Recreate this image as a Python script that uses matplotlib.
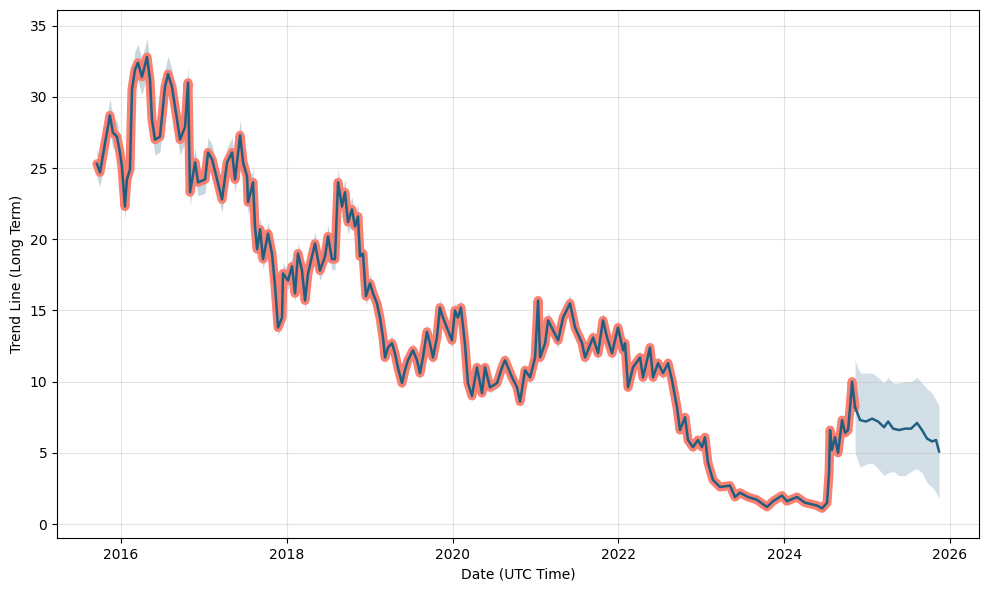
import numpy as np
import pandas as pd
import matplotlib
matplotlib.use('Agg')
import matplotlib.pyplot as plt

# Data historis (tahun desimal, nilai)
hist_years = [
    2015.710, 2015.747, 2015.867, 2015.903, 2015.952, 2015.988, 2016.012, 2016.048,
    2016.072, 2016.109, 2016.133, 2016.169, 2016.205, 2016.253, 2016.314, 2016.350,
    2016.374, 2016.410, 2016.470, 2016.531, 2016.567, 2016.615, 2016.676, 2016.712,
    2016.772, 2016.808, 2016.832, 2016.893, 2016.929, 2017.013, 2017.049, 2017.098,
    2017.158, 2017.218, 2017.279, 2017.339, 2017.375, 2017.436, 2017.472, 2017.520,
    2017.532, 2017.592, 2017.616, 2017.641, 2017.677, 2017.713, 2017.773, 2017.821,
    2017.858, 2017.894, 2017.942, 2017.954, 2018.014, 2018.063, 2018.099, 2018.135,
    2018.183, 2018.220, 2018.256, 2018.304, 2018.340, 2018.400, 2018.461, 2018.497,
    2018.545, 2018.581, 2018.618, 2018.666, 2018.702, 2018.738, 2018.786, 2018.823,
    2018.859, 2018.883, 2018.919, 2018.955, 2019.004, 2019.040, 2019.088, 2019.124,
    2019.161, 2019.185, 2019.221, 2019.269, 2019.305, 2019.341, 2019.390, 2019.426,
    2019.462, 2019.522, 2019.571, 2019.607, 2019.643, 2019.691, 2019.727, 2019.764,
    2019.812, 2019.848, 2019.884, 2019.932, 2019.993, 2020.029, 2020.065, 2020.101,
    2020.149, 2020.186, 2020.234, 2020.294, 2020.355, 2020.391, 2020.451, 2020.536,
    2020.596, 2020.632, 2020.717, 2020.777, 2020.813, 2020.873, 2020.934, 2020.994,
    2021.030, 2021.054, 2021.115, 2021.151, 2021.211, 2021.272, 2021.332, 2021.416,
    2021.477, 2021.561, 2021.597, 2021.694, 2021.754, 2021.814, 2021.863, 2021.923,
    2021.995, 2022.056, 2022.080, 2022.116, 2022.176, 2022.261, 2022.297, 2022.381,
    2022.418, 2022.478, 2022.538, 2022.599, 2022.647, 2022.707, 2022.743, 2022.804,
    2022.840, 2022.900, 2022.960, 2023.009, 2023.045, 2023.081, 2023.141, 2023.226,
    2023.346, 2023.407, 2023.467, 2023.564, 2023.672, 2023.793, 2023.865, 2023.974,
    2024.034, 2024.155, 2024.251, 2024.396, 2024.457, 2024.517, 2024.541, 2024.553,
    2024.577, 2024.613, 2024.649, 2024.698, 2024.734, 2024.770, 2024.794, 2024.818,
    2024.830, 2024.854,
]
hist_values = [
    25.3, 24.7, 28.7, 27.5, 27.2, 26.1, 25.1, 22.3,
    24.2, 24.9, 30.5, 31.9, 32.4, 31.4, 32.8, 31.2,
    28.4, 27.0, 27.2, 30.7, 31.6, 30.7, 28.4, 27.0,
    27.9, 31.0, 23.3, 25.4, 24.0, 24.2, 26.1, 25.6,
    24.2, 22.8, 25.4, 26.1, 24.2, 27.3, 25.4, 24.4,
    22.6, 24.0, 20.9, 19.3, 20.7, 18.6, 20.4, 19.0,
    16.7, 13.8, 14.5, 17.6, 17.1, 18.1, 16.2, 19.0,
    17.8, 15.7, 17.6, 18.8, 19.7, 17.8, 18.8, 20.2,
    18.6, 18.6, 24.0, 22.3, 23.3, 21.2, 22.1, 20.9,
    21.6, 18.8, 19.0, 16.0, 16.9, 16.2, 15.5, 14.5,
    13.1, 11.7, 12.4, 12.7, 12.0, 11.0, 9.9, 10.8,
    11.5, 12.2, 11.5, 10.6, 11.7, 13.5, 12.7, 11.7,
    13.1, 15.2, 14.5, 13.8, 12.9, 15.0, 14.5, 15.2,
    12.7, 9.9, 9.0, 11.0, 9.2, 11.0, 9.6, 9.9,
    11.0, 11.5, 10.3, 9.6, 8.6, 10.8, 10.3, 11.7,
    15.7, 11.7, 12.7, 14.3, 13.6, 12.9, 14.5, 15.5,
    13.8, 12.7, 11.7, 13.1, 12.0, 14.3, 13.1, 12.0,
    13.8, 12.2, 12.7, 9.6, 11.0, 11.7, 10.3, 12.4,
    10.3, 11.3, 10.6, 11.3, 10.1, 8.2, 6.6, 7.5,
    5.9, 5.4, 5.9, 5.4, 6.1, 4.3, 3.1, 2.6,
    2.7, 1.9, 2.2, 1.9, 1.7, 1.2, 1.6, 2.0,
    1.6, 1.9, 1.5, 1.3, 1.1, 1.5, 3.6, 6.6,
    5.2, 6.1, 5.0, 7.3, 6.4, 6.6, 8.2, 10.0,
    9.4, 8.2,
]
hist_spread = 0.04  # lebar relatif pita ketidakpastian pada data historis

# Prediksi ke depan
fc_years = [2024.854, 2024.915, 2024.987, 2025.059, 2025.132, 2025.204, 2025.253, 2025.313,
            2025.385, 2025.457, 2025.530, 2025.602, 2025.662, 2025.723, 2025.783, 2025.831,
            2025.868]
fc_yhat = [8.2, 7.3, 7.2, 7.4, 7.2, 6.8, 7.2, 6.7, 6.6, 6.7, 6.7, 7.1, 6.6, 6.0, 5.8, 5.9, 5.1]
fc_upper = [11.5, 10.6, 10.6, 10.6, 10.3, 9.9, 10.3, 9.9, 9.9, 10.0, 10.0, 10.3, 9.9, 9.5, 9.2, 8.7, 8.3]
fc_lower = [5.0, 4.0, 4.2, 4.3, 3.9, 3.4, 3.6, 3.7, 3.4, 3.4, 3.7, 3.9, 3.6, 2.9, 2.6, 2.2, 1.8]


def to_dates(years):
    out = []
    for y in years:
        yr = int(y)
        start = pd.Timestamp(year=yr, month=1, day=1)
        end = pd.Timestamp(year=yr + 1, month=1, day=1)
        out.append(start + (end - start) * (y - yr))
    return pd.to_datetime(out)


hist_dates = to_dates(hist_years)
fc_dates = to_dates(fc_years)
hist_arr = np.array(hist_values)

line_color = '#1f6082'
fig, ax = plt.subplots(figsize=(9.89, 5.89), dpi=100)
fig.subplots_adjust(left=0.0576, right=0.9899, top=0.983, bottom=0.0866)

ax.fill_between(hist_dates, hist_arr * (1 - hist_spread), hist_arr * (1 + hist_spread),
                color=line_color, alpha=0.25, linewidth=0)
ax.fill_between(fc_dates, fc_lower, fc_upper, color=line_color, alpha=0.2, linewidth=0)
ax.plot(hist_dates, hist_values, color='#fa8072', linewidth=6.5, solid_capstyle='round')
ax.plot(hist_dates, hist_values, color=line_color, linewidth=1.8)
ax.plot(fc_dates, fc_yhat, color=line_color, linewidth=1.8)

ax.set_ylim(-0.98, 36.1)
ax.set_xlim(to_dates([2015.228, 2026.35]))
ax.grid(True, color='#b0b0b0', alpha=0.35, linewidth=0.8)
ax.set_xlabel('Date (UTC Time)')
ax.set_ylabel('Trend Line (Long Term)')

plt.savefig('out.png', dpi=100)
plt.close()
